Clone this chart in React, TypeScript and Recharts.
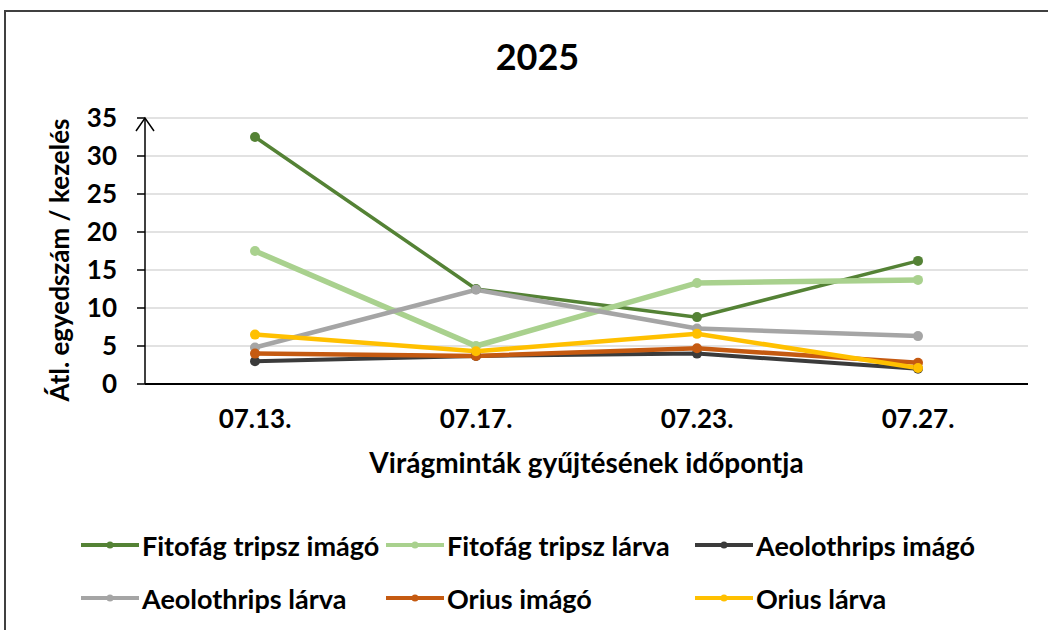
import { CartesianGrid, Line, LineChart, XAxis, YAxis } from "recharts";

const dates = ["07.13.", "07.17.", "07.23.", "07.27."];
const fitofagImago = [32.5, 12.5, 8.8, 16.2];
const fitofagLarva = [17.5, 5.0, 13.3, 13.7];
const aeoloImago = [3.0, 3.7, 4.0, 2.0];
const aeoloLarva = [4.8, 12.4, 7.3, 6.3];
const oriusImago = [4.0, 3.7, 4.7, 2.8];
const oriusLarva = [6.5, 4.3, 6.6, 2.1];
const yTicks = [0, 5, 10, 15, 20, 25, 30, 35];

const series = [
  { key: "fi", name: "Fitofág tripsz imágó", color: "#548235", width: 3.5, values: fitofagImago },
  { key: "fl", name: "Fitofág tripsz lárva", color: "#A9D18E", width: 5.5, values: fitofagLarva },
  { key: "ai", name: "Aeolothrips imágó", color: "#3B3B3B", width: 4, values: aeoloImago },
  { key: "al", name: "Aeolothrips lárva", color: "#A5A5A5", width: 4.5, values: aeoloLarva },
  { key: "oi", name: "Orius imágó", color: "#C55A11", width: 4.5, values: oriusImago },
  { key: "ol", name: "Orius lárva", color: "#FFC000", width: 4.5, values: oriusLarva },
];

const data = dates.map((date, i) => {
  const row: Record<string, string | number> = { date };
  series.forEach((s) => {
    row[s.key] = s.values[i];
  });
  return row;
});

const font = "Lato, 'Open Sans', sans-serif";

const XTick = ({ x, y, payload }: any) => (
  <text x={x} y={y + 36} textAnchor="middle" fontFamily={font} fontWeight={700} fontSize={26} fill="#000">
    {payload.value}
  </text>
);

const YTick = ({ x, y, payload }: any) => (
  <text x={x} y={y} dy={9} textAnchor="end" fontFamily={font} fontWeight={700} fontSize={26} fill="#000">
    {payload.value}
  </text>
);

const YLabel = ({ viewBox }: any) => {
  const ax = viewBox.x + viewBox.width;
  const top = viewBox.y;
  const cy = viewBox.y + viewBox.height / 2 + 9;
  return (
    <g>
      <path d={`M${ax - 9},${top + 13} L${ax},${top} L${ax + 9},${top + 13}`} fill="none" stroke="#000" strokeWidth={1.5} />
      <text
        x={62}
        y={cy}
        transform={`rotate(-90, 62, ${cy})`}
        textAnchor="middle"
        dominantBaseline="middle"
        fontFamily={font}
        fontWeight={700}
        fontSize={26}
        fill="#000"
      >
        Átl. egyedszám / kezelés
      </text>
    </g>
  );
};

const XLabel = ({ viewBox }: any) => (
  <text
    x={viewBox.x + viewBox.width / 2}
    y={viewBox.y + 89}
    textAnchor="middle"
    fontFamily={font}
    fontWeight={700}
    fontSize={28}
    fill="#000"
  >
    Virágminták gyűjtésének időpontja
  </text>
);

const LegendBox = () => (
  <div
    style={{
      position: "absolute",
      left: 0,
      top: 529,
      display: "grid",
      gridTemplateColumns: "305px 309px 309px",
      rowGap: 21,
      paddingLeft: 81,
      fontFamily: font,
      fontWeight: 700,
      fontSize: 27,
      color: "#000",
    }}
  >
    {series.map((s) => (
      <div key={s.key} style={{ display: "flex", alignItems: "center", height: 32, whiteSpace: "nowrap" }}>
        <svg width={58} height={14}>
          <line x1={0} y1={7} x2={58} y2={7} stroke={s.color} strokeWidth={4} />
          <circle cx={29} cy={7} r={3.5} fill={s.color} />
        </svg>
        <span style={{ marginLeft: 3 }}>{s.name}</span>
      </div>
    ))}
  </div>
);

export default function App() {
  return (
    <div style={{ position: "absolute", left: 0, top: 0, width: 1048, height: 630, overflow: "hidden", background: "#fff" }}>
      <div
        style={{
          position: "absolute",
          left: 4,
          top: 10,
          width: 1100,
          height: 700,
          borderLeft: "2px solid #404040",
          borderTop: "2px solid #404040",
        }}
      />
      <div
        style={{
          position: "absolute",
          left: 0,
          width: 1075,
          top: 34,
          textAlign: "center",
          fontFamily: font,
          fontWeight: 700,
          fontSize: 36,
          color: "#000",
        }}
      >
        2025
      </div>
      <div style={{ position: "absolute", left: 0, top: 0 }}>
        <LineChart width={1048} height={630} data={data} margin={{ top: 118, right: 20, left: 0, bottom: 0 }}>
          <CartesianGrid vertical={false} stroke="#D9D9D9" strokeWidth={1.5} />
          <XAxis
            dataKey="date"
            height={246}
            padding={{ left: 110, right: 110 }}
            tickLine={false}
            axisLine={{ stroke: "#000", strokeWidth: 2 }}
            tick={<XTick />}
            label={<XLabel />}
            interval={0}
          />
          <YAxis
            width={145}
            domain={[0, 35]}
            ticks={yTicks}
            tickSize={8}
            tickMargin={20}
            tickLine={{ stroke: "#000", strokeWidth: 1.5 }}
            axisLine={{ stroke: "#000", strokeWidth: 1.5 }}
            tick={<YTick />}
            label={<YLabel />}
          />
          {series.map((s) => (
            <Line
              key={s.key}
              dataKey={s.key}
              name={s.name}
              stroke={s.color}
              strokeWidth={s.width}
              dot={{ r: 5, fill: s.color, stroke: s.color, strokeWidth: 0 }}
              activeDot={false}
              isAnimationActive={false}
            />
          ))}
        </LineChart>
      </div>
      <LegendBox />
    </div>
  );
}
